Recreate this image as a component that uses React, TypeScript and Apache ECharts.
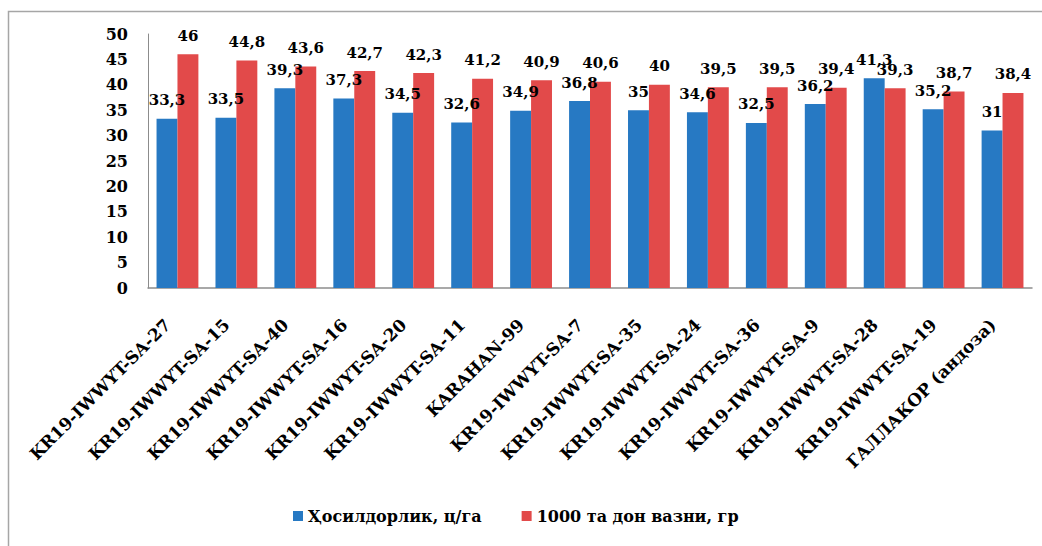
import React, { useEffect, useRef } from "react";
import * as echarts from "echarts";

const categories = [
  "KR19-IWWYT-SA-27",
  "KR19-IWWYT-SA-15",
  "KR19-IWWYT-SA-40",
  "KR19-IWWYT-SA-16",
  "KR19-IWWYT-SA-20",
  "KR19-IWWYT-SA-11",
  "KARAHAN-99",
  "KR19-IWWYT-SA-7",
  "KR19-IWWYT-SA-35",
  "KR19-IWWYT-SA-24",
  "KR19-IWWYT-SA-36",
  "KR19-IWWYT-SA-9",
  "KR19-IWWYT-SA-28",
  "KR19-IWWYT-SA-19",
  "ГАЛЛАКОР (андоза)",
];

const yieldValues = [33.3, 33.5, 39.3, 37.3, 34.5, 32.6, 34.9, 36.8, 35, 34.6, 32.5, 36.2, 41.3, 35.2, 31];
const weightValues = [46, 44.8, 43.6, 42.7, 42.3, 41.2, 40.9, 40.6, 40, 39.5, 39.5, 39.4, 39.3, 38.7, 38.4];

const seriesNames = ["Ҳосилдорлик, ц/га", "1000 та дон вазни, гр"];

const FONT = "DejaVu Serif";

export default function App() {
  const ref = useRef<HTMLDivElement>(null);

  useEffect(() => {
    if (!ref.current) return;
    const chart = echarts.init(ref.current, undefined, { renderer: "svg" });
    const labelCfg = {
      show: true,
      position: "top",
      distance: 11,
      color: "#000",
      fontFamily: FONT,
      fontWeight: "bold",
      fontSize: 15,
      formatter: (p: any) => String(p.value).replace(".", ","),
    };
    chart.setOption({
      animation: false,
      backgroundColor: "#fff",
      graphic: [
        {
          type: "rect",
          shape: { x: 8.5, y: 11.5, width: 1100, height: 600 },
          style: { fill: "none", stroke: "#a6a6a6", lineWidth: 1.5 },
          silent: true,
        },
      ],
      grid: { left: 148, right: 10, top: 34, bottom: 258, containLabel: false },
      legend: {
        left: 288,
        top: 503,
        itemWidth: 10,
        itemHeight: 10,
        itemGap: 40,
        icon: "rect",
        textStyle: { fontFamily: FONT, fontWeight: "bold", fontSize: 16, color: "#000" },
        data: seriesNames,
      },
      xAxis: {
        type: "category",
        data: categories,
        axisLine: { lineStyle: { color: "#8c8c8c", width: 1.5 } },
        axisTick: { show: false },
        axisLabel: {
          rotate: 45,
          interval: 0,
          margin: 24,
          padding: [0, 14, 0, 0],
          color: "#000",
          fontFamily: FONT,
          fontWeight: "bold",
          fontSize: 17,
        },
      },
      yAxis: {
        type: "value",
        min: 0,
        max: 50,
        interval: 5,
        splitLine: { show: false },
        axisLine: { show: true, lineStyle: { color: "#8c8c8c", width: 1 } },
        axisTick: { show: false },
        axisLabel: {
          margin: 20,
          color: "#000",
          fontFamily: FONT,
          fontWeight: "bold",
          fontSize: 16,
        },
      },
      series: [
        {
          name: seriesNames[0],
          type: "bar",
          data: yieldValues,
          barGap: "0%",
          barCategoryGap: "29%",
          itemStyle: { color: "#2779c3" },
          label: labelCfg,
        },
        {
          name: seriesNames[1],
          type: "bar",
          data: weightValues,
          barGap: "0%",
          barCategoryGap: "29%",
          itemStyle: { color: "#e24a4a" },
          label: labelCfg,
        },
      ],
    });
    return () => chart.dispose();
  }, []);

  return (
    <div
      ref={ref}
      style={{ position: "absolute", left: 0, top: 0, width: 1042, height: 546 }}
    />
  );
}
